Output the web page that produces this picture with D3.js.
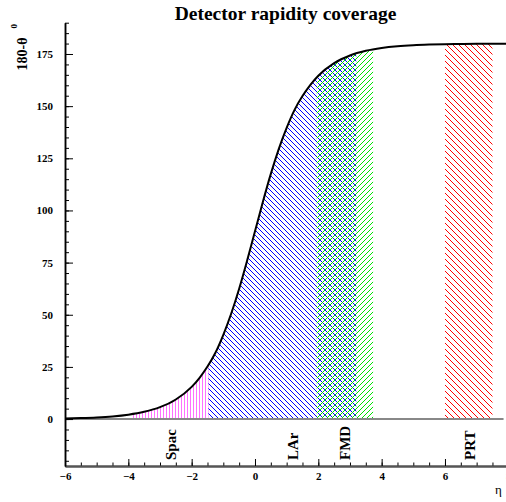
<!DOCTYPE html>
<html>
<head>
<meta charset="utf-8">
<script src="https://cdn.jsdelivr.net/npm/d3@7"></script>
<style>
  body { margin: 0; background: #fff; }
  svg { display: block; }
  text { font-family: "Liberation Serif", "Times New Roman", serif; }
</style>
</head>
<body>
<div id="chart"></div>
<script>
"use strict";

// Pseudorapidity eta and 180-theta (degrees)
const etaValues = [-6, -5.5, -5, -4.5, -4, -3.5, -3, -2.5, -2, -1.75, -1.5, -1.25, -1,
    -0.75, -0.5, -0.25, 0, 0.25, 0.5, 0.75, 1, 1.25, 1.5, 1.75, 2, 2.5, 3, 3.5,
    4, 4.5, 5, 5.5, 6, 6.5, 7, 7.5, 8];
const angleValues = [0.28, 0.47, 0.77, 1.27, 2.10, 3.46, 5.70, 9.39, 15.42, 19.79,
    25.16, 31.77, 40.39, 50.58, 62.48, 75.87, 90, 104.13, 117.52, 129.42, 139.61,
    148.23, 154.84, 160.21, 164.58, 170.61, 174.30, 176.54, 177.90, 178.73,
    179.23, 179.53, 179.72, 179.83, 179.90, 179.94, 179.96];

// Detector coverage in eta
const detNames = ['Spac', 'LAr', 'FMD', 'PRT'];
const detLow = [-3.9, -1.47, 1.95, 6.0];
const detHigh = [-1.47, 3.2, 3.73, 7.5];
const detLabelEta = [-2.51, 1.36, 3.0, 6.95];

const xTickMajor = [-6, -4, -2, 0, 2, 4, 6, 8];
const yTickMajor = [0, 25, 50, 75, 100, 125, 150, 175];

const W = 506, H = 502;
const margin = {left: 65, top: 22.7, bottom: 36};  // plot runs past right edge

const svg = d3.select('#chart').append('svg')
    .attr('width', W)
    .attr('height', H);

const x = d3.scaleLinear().domain([-6, 8]).range([margin.left, 508.3]);
const y = d3.scaleLinear().domain([-22.5, 190]).range([H - margin.bottom, margin.top]);

const curveData = etaValues.map(function (e, i) { return {eta: e, a: angleValues[i]}; });

// Hatch patterns: one per detector
const defs = svg.append('defs');
function hatch(id, color, step, dir, width) {
    let p = defs.append('pattern')
        .attr('id', id)
        .attr('patternUnits', 'userSpaceOnUse')
        .attr('width', step)
        .attr('height', step);
    let g = p.append('g')
        .attr('stroke', color)
        .attr('stroke-width', width)
        .attr('shape-rendering', 'crispEdges')  // pixel-stepped like the original
        .attr('fill', 'none');
    if (dir === 'v') {
        g.append('line').attr('x1', step / 2).attr('y1', 0)
            .attr('x2', step / 2).attr('y2', step);
    } else if (dir === 'back') {  // top-left to bottom-right
        g.append('path').attr('d',
            'M' + (-step) + ',0L' + (2 * step) + ',' + (3 * step) +
            'M' + (-2 * step) + ',0L' + step + ',' + (3 * step) +
            'M0,0L' + step + ',' + step +
            'M' + (-step) + ',' + (-step) + 'L' + (2 * step) + ',' + (2 * step));
    } else {  // bottom-left to top-right
        g.append('path').attr('d',
            'M0,' + step + 'L' + step + ',0' +
            'M' + (-step) + ',' + step + 'L' + step + ',' + (-step) +
            'M0,' + (2 * step) + 'L' + (2 * step) + ',0');
    }
}
hatch('h-spac', '#ff70ff', 3, 'v', 1);
hatch('h-lar', '#0000ff', 5, 'back', 1);
hatch('h-fmd', '#00e000', 5, 'fwd', 1);
hatch('h-prt', '#ff0000', 6, 'back', 1);
const detFill = ['url(#h-spac)', 'url(#h-lar)', 'url(#h-fmd)', 'url(#h-prt)'];

// Clip hatches to the area under the curve
defs.append('clipPath').attr('id', 'under-curve')
  .append('path')
    .attr('d', d3.area()
        .x(function (d) { return x(d.eta); })
        .y0(y(0))
        .y1(function (d) { return y(d.a); })
        .curve(d3.curveMonotoneX)(curveData));

svg.append('g')
    .attr('clip-path', 'url(#under-curve)')
  .selectAll('rect')
  .data(detNames)
  .enter().append('rect')
    .attr('x', function (d, i) { return x(detLow[i]); })
    .attr('width', function (d, i) { return x(detHigh[i]) - x(detLow[i]); })
    .attr('y', y(185))
    .attr('height', y(0) - y(185))
    .attr('fill', function (d, i) { return detFill[i]; });

// Zero line
svg.append('line')
    .attr('x1', x(-6)).attr('x2', x(7.85))
    .attr('y1', y(0)).attr('y2', y(0))
    .attr('stroke', '#888')
    .attr('stroke-width', 2);

// The curve itself
svg.append('path')
    .datum(curveData)
    .attr('fill', 'none')
    .attr('stroke', '#000')
    .attr('stroke-width', 2)
    .attr('d', d3.line()
        .x(function (d) { return x(d.eta); })
        .y(function (d) { return y(d.a); })
        .curve(d3.curveMonotoneX));

// Axes: minor ticks first, then major with labels
const xMinor = d3.range(-6, 8.01, 0.5);
const yMinor = d3.range(-20, 190.1, 5);

const xAxisG = svg.append('g').attr('transform', 'translate(0,' + y.range()[0] + ')');
xAxisG.append('g')
    .call(d3.axisBottom(x).tickValues(xMinor).tickSize(-3.5).tickSizeOuter(0).tickFormat(''));
xAxisG.append('g')
    .call(d3.axisBottom(x).tickValues(xTickMajor).tickSize(-7).tickSizeOuter(0).tickPadding(6.2));
xAxisG.selectAll('.domain').attr('stroke', '#555').attr('stroke-width', 2);

const yAxisG = svg.append('g').attr('transform', 'translate(' + margin.left + ',0)');
yAxisG.append('g')
    .call(d3.axisLeft(y).tickValues(yMinor).tickSize(-4).tickSizeOuter(0).tickFormat(''));
yAxisG.append('g')
    .call(d3.axisLeft(y).tickValues(yTickMajor).tickSize(-8).tickSizeOuter(0).tickPadding(12));
yAxisG.selectAll('.domain').attr('stroke', '#000').attr('stroke-width', 1.5);

svg.selectAll('.tick line').attr('stroke', '#000');
svg.selectAll('.tick text')
    .style('font-family', '"Liberation Serif", serif')
    .style('font-weight', 'bold')
    .style('font-size', '11px');

// Detector labels, rotated below the zero line
svg.selectAll('text.det')
  .data(detNames)
  .enter().append('text')
    .classed('det', true)
    .attr('transform', function (d, i) {
        return 'translate(' + x(detLabelEta[i]) + ',460) rotate(-90)';
    })
    .style('font-weight', 'bold')
    .style('font-size', '15px')
    .text(function (d) { return d; });

// Title and axis titles
svg.append('text')
    .attr('x', 285.5)
    .attr('y', 20)
    .style('text-anchor', 'middle')
    .style('font-weight', 'bold')
    .style('font-size', '19.5px')
    .text('Detector rapidity coverage');

svg.append('text')
    .attr('transform', 'translate(27,70.5) rotate(-90)')
    .style('font-weight', 'bold')
    .style('font-size', '14px')
    .text('180-\u03b8');
svg.append('text')
    .attr('transform', 'translate(16.7,28.5) rotate(-90)')
    .style('font-weight', 'bold')
    .style('font-size', '9px')
    .text('0');

svg.append('text')
    .attr('x', 495)
    .attr('y', 494)
    .style('font-size', '13px')
    .text('\u03b7');
</script>
</body>
</html>
